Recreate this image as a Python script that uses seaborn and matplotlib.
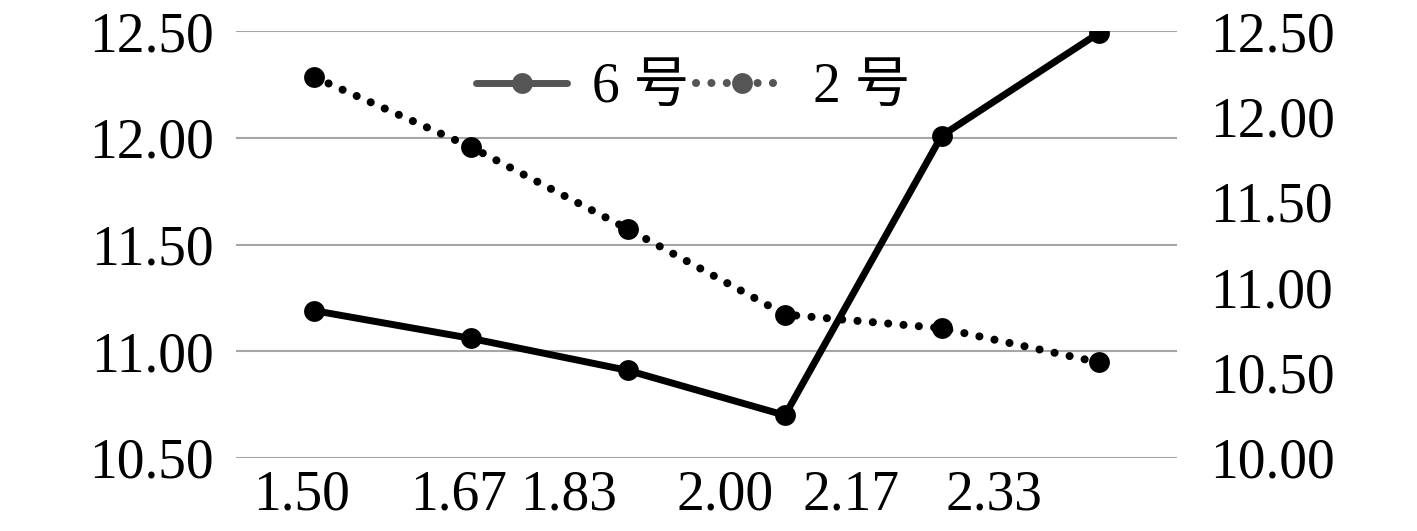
import numpy as np
import pandas as pd
import matplotlib
matplotlib.use("Agg")
import matplotlib.pyplot as plt
import seaborn as sns
from matplotlib.ticker import FormatStrFormatter, FixedLocator
from matplotlib.lines import Line2D

# ---- data ----
categories = ["1.50", "1.67", "1.83", "2.00", "2.17", "2.33"]
series_6 = [11.19, 11.06, 10.91, 10.70, 12.01, 12.49]   # left axis
series_2 = [12.23, 11.82, 11.34, 10.84, 10.76, 10.56]   # right axis
left_ticks = [10.50, 11.00, 11.50, 12.00, 12.50]
right_ticks = [10.00, 10.50, 11.00, 11.50, 12.00, 12.50]
names = ["6 号", "2 号"]

# label placement (layout, offsets as in the reference)
xtick_pos = [-0.08, 0.92, 1.62, 2.62, 3.42, 4.33]

sns.set_theme(style="white")
plt.rcParams["font.family"] = ["Liberation Serif", "Noto Sans CJK SC", "DejaVu Sans"]
plt.rcParams["text.color"] = "black"

df = pd.DataFrame({"x": np.arange(len(categories)), "s6": series_6, "s2": series_2})

fig = plt.figure(figsize=(14.17, 5.31), dpi=100)
ax = fig.add_axes([0.1666, 0.1375, 0.664, 0.804])

sns.lineplot(data=df, x="x", y="s6", ax=ax, color="black", linewidth=5,
             marker="o", markersize=15, markeredgewidth=0, legend=False,
             solid_capstyle="round")
ax2 = ax.twinx()
sns.lineplot(data=df, x="x", y="s2", ax=ax2, color="black", linewidth=5.8,
             linestyle=(0, (0.01, 1.9)), dash_capstyle="round",
             marker="o", markersize=15, markeredgewidth=0, legend=False)

ax.set_xlim(-0.5, len(categories) - 0.5)
ax.set_ylim(left_ticks[0], left_ticks[-1])
ax2.set_ylim(right_ticks[0], right_ticks[-1])

ax.yaxis.set_major_locator(FixedLocator(left_ticks))
ax.yaxis.set_major_formatter(FormatStrFormatter("%.2f"))
ax2.yaxis.set_major_locator(FixedLocator(right_ticks))
ax2.yaxis.set_major_formatter(FormatStrFormatter("%.2f"))

ax.set_xticks(xtick_pos)
ax.set_xticklabels(categories)

ax.grid(axis="y", color="#a6a6a6", linewidth=1.5)
ax.grid(axis="x", visible=False)
ax2.grid(False)
ax.set_axisbelow(True)

for a in (ax, ax2):
    for s in a.spines.values():
        s.set_visible(False)
    a.set_xlabel("")
    a.set_ylabel("")

ax.tick_params(axis="y", length=0, pad=16, labelsize=40, colors="black")
ax.tick_params(axis="x", length=0, pad=8, labelsize=40, colors="black")
ax2.tick_params(axis="y", length=0, pad=24, labelsize=40, colors="black")

handles = [
    Line2D([], [], color="#555555", linewidth=5, marker="o", markersize=15,
           markeredgewidth=0),
    Line2D([], [], color="#555555", linewidth=5.8, linestyle=(0, (0.01, 1.9)),
           dash_capstyle="round", marker="o", markersize=15, markeredgewidth=0),
]
fig.legend(handles, names, loc="center", bbox_to_anchor=(0.489, 0.834),
           ncol=2, frameon=False, fontsize=40, handlelength=1.65,
           handletextpad=0.45, columnspacing=0.12, borderpad=0.1,
           labelcolor="black")

fig.savefig("out.png", dpi=100)
